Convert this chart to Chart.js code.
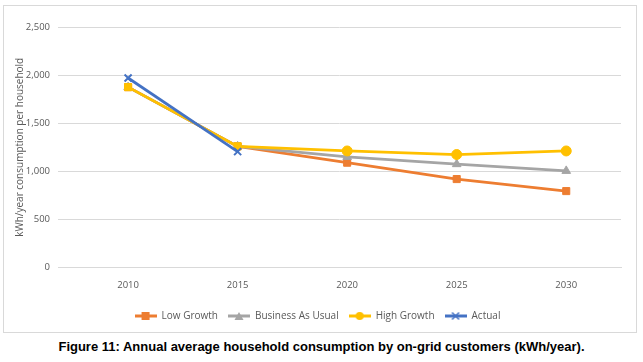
<!DOCTYPE html>
<html>
<head>
<meta charset="utf-8">
<script src="https://cdn.jsdelivr.net/npm/chart.js@4.4.1/dist/chart.umd.min.js"></script>
<style>
  body { margin: 0; background: #fff; width: 643px; height: 362px; overflow: hidden; position: relative; }
  #box { position: absolute; left: 3px; top: 5px; width: 632px; height: 326px; border: 1px solid #d9d9d9; }
  #caption { position: absolute; left: 0; top: 339px; width: 643px; text-align: center;
    font: bold 13px "Liberation Sans", Arial, sans-serif; color: #000; }
</style>
</head>
<body>
<div id="box"><canvas id="myChart" width="632" height="326"></canvas></div>
<div id="caption">Figure 11: Annual average household consumption by on-grid customers (kWh/year).</div>
<script>
// years on the x axis
const years = [2010, 2015, 2020, 2025, 2030];
const yTicks = [0, 500, 1000, 1500, 2000, 2500];

// kWh/year per household
const lowGrowth = [1875, 1260, 1090, 920, 795];
const businessAsUsual = [1875, 1260, 1150, 1075, 1005];
const highGrowth = [1875, 1260, 1212, 1175, 1212];
const actual = [1970, 1205, null, null, null];

const seriesNames = ["Low Growth", "Business As Usual", "High Growth", "Actual"];
const seriesColors = ["#ED7D31", "#A5A5A5", "#FFC000", "#4472C4"];
const seriesMarkers = ["rect", "triangle", "circle", "crossRot"];

function toPoints(values) {
  return years.map(function (yr, i) {
    return { x: yr, y: values[i] };
  });
}

// little line + marker image for the legend, like Excel does
function legendIcon(color, marker) {
  let c = document.createElement("canvas");
  c.width = 22;
  c.height = 10;
  let g = c.getContext("2d");
  g.strokeStyle = color;
  g.fillStyle = color;
  g.lineWidth = 3;
  g.beginPath();
  g.moveTo(0, 5);
  g.lineTo(22, 5);
  g.stroke();
  g.lineWidth = 1.5;
  if (marker == "rect") {
    g.fillRect(7, 1, 8, 8);
  } else if (marker == "triangle") {
    g.beginPath();
    g.moveTo(11, 1);
    g.lineTo(15.5, 9);
    g.lineTo(6.5, 9);
    g.closePath();
    g.fill();
  } else if (marker == "circle") {
    g.beginPath();
    g.arc(11, 5, 4, 0, Math.PI * 2);
    g.fill();
  } else {
    g.beginPath();
    g.moveTo(7.5, 1.5);
    g.lineTo(14.5, 8.5);
    g.moveTo(14.5, 1.5);
    g.lineTo(7.5, 8.5);
    g.stroke();
  }
  return c;
}

// Actual on top, then high growth, business as usual, low growth
const drawOrder = [3, 2, 1, 0];

const allValues = [lowGrowth, businessAsUsual, highGrowth, actual];
const datasets = allValues.map(function (vals, i) {
  return {
    label: seriesNames[i],
    data: toPoints(vals),
    order: drawOrder[i],
    borderColor: seriesColors[i],
    backgroundColor: seriesColors[i],
    borderWidth: 2.75,
    pointStyle: i == 2 ? ["rect", "rect", "circle", "circle", "circle"] : seriesMarkers[i],
    pointRadius: 5,
    pointBorderWidth: seriesMarkers[i] == "crossRot" ? 2 : 1,
    pointHoverRadius: 5,
    spanGaps: false,
    tension: 0,
  };
});

const ctx = document.getElementById("myChart").getContext("2d");
const chart = new Chart(ctx, {
  type: "line",
  data: { datasets: datasets },
  options: {
    responsive: false,
    animation: false,
    layout: { padding: { top: 21, right: 15, left: 10, bottom: 1 } },
    plugins: {
      tooltip: { enabled: false },
      legend: {
        position: "bottom",
        labels: {
          usePointStyle: true,
          pointStyleWidth: 22,
          padding: 10,
          color: "#595959",
          font: { family: "Open Sans", size: 10 },
          generateLabels: function (ch) {
            return seriesNames.map(function (name, i) {
              return {
                text: name,
                pointStyle: legendIcon(seriesColors[i], seriesMarkers[i]),
                fillStyle: seriesColors[i],
                strokeStyle: seriesColors[i],
                lineWidth: 0,
                hidden: false,
                datasetIndex: i,
                fontColor: "#595959",
              };
            });
          },
        },
      },
    },
    scales: {
      x: {
        type: "linear",
        min: 2006.8,
        max: 2032.5,
        afterBuildTicks: function (scale) {
          scale.ticks = years.map(function (v) { return { value: v }; });
        },
        afterFit: function (scale) { scale.height += 6; },
        grid: { display: false },
        border: { display: true, color: "#d9d9d9" },
        ticks: {
          color: "#595959",
          font: { family: "Open Sans", size: 9.5 },
          padding: 4,
          callback: function (v) { return String(v); },
        },
      },
      y: {
        min: 0,
        max: 2500,
        afterBuildTicks: function (scale) {
          scale.ticks = yTicks.map(function (v) { return { value: v }; });
        },
        afterFit: function (scale) { scale.width = 44; },
        grid: { color: "#d9d9d9", drawTicks: false },
        border: { display: false },
        title: {
          display: true,
          text: "kWh/year consumption per household",
          color: "#595959",
          font: { family: "Open Sans", size: 10 },
          padding: 0,
        },
        ticks: {
          color: "#595959",
          font: { family: "Open Sans", size: 9.5 },
          padding: 8,
          callback: function (v) { return v.toLocaleString("en-US"); },
        },
      },
    },
  },
});
</script>
</body>
</html>
